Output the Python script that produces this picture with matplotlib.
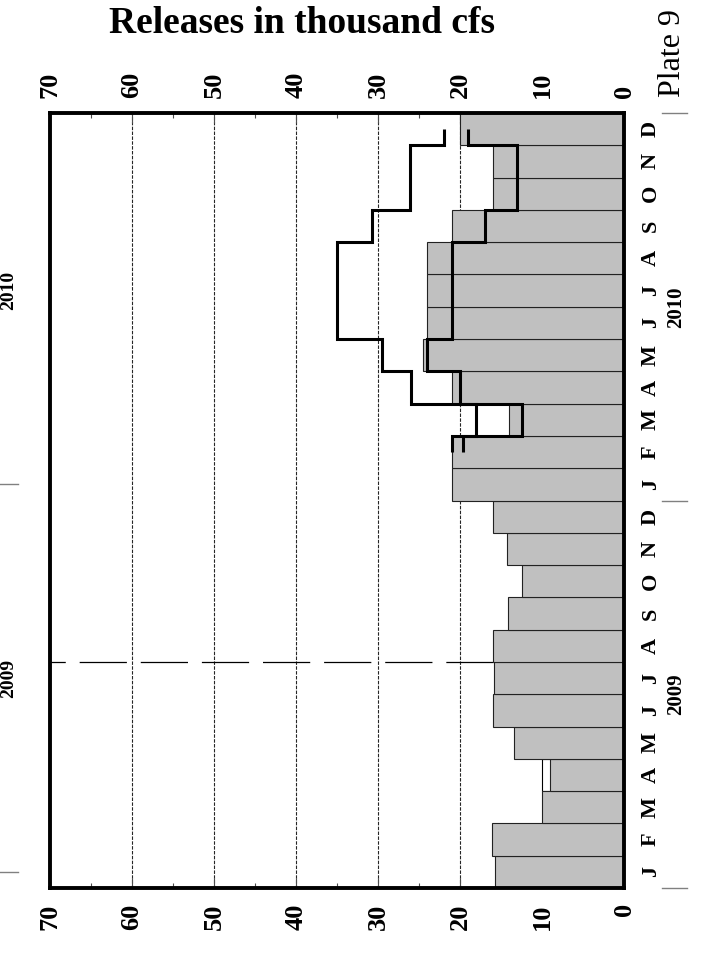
import matplotlib
matplotlib.use('Agg')
import matplotlib.pyplot as plt
import matplotlib.transforms as mtransforms
from matplotlib.ticker import FixedLocator, MultipleLocator

plt.rcParams['font.family'] = ['Liberation Serif', 'DejaVu Serif']
plt.rcParams['lines.scale_dashes'] = False

# ---------------- data ----------------
months = ['J', 'F', 'M', 'A', 'M', 'J', 'J', 'A', 'S', 'O', 'N', 'D']
years = ['2009', '2010']
# monthly releases (thousand cfs), Jan 2009 .. Dec 2010
releases = [15.7, 16.1, 10.0, 9.0, 13.4, 16.0, 15.8, 16.0, 14.1, 12.5, 14.3, 16.0,
            21.0, 21.0, 14.0, 21.0, 24.5, 24.0, 24.0, 24.0, 21.0, 16.0, 16.0, 20.0]
# outlined (unfilled) bar
outline_idx = [3]
outline_vals = [10.0]
# forecast envelopes, mid-Feb 2010 .. mid-Dec 2010
forecast_low = [19.6, 12.4, 20.0, 24.0, 21.0, 21.0, 21.0, 17.0, 13.0, 13.0, 19.0]
forecast_high = [21.0, 18.0, 26.0, 29.5, 35.0, 35.0, 35.0, 30.7, 26.1, 26.1, 22.0]
forecast_start = 13  # Feb 2010 index
value_ticks = [0, 10, 20, 30, 40, 50, 60, 70]
grid_vals = [20, 30, 40, 50, 60]
marker_month = 7  # Jul/Aug 2009 boundary

# ---------------- figure ----------------
W, H = 715, 967
fig = plt.figure(figsize=(W / 100, H / 100), dpi=100)
L, R, T, B = 50, 624, 113, 888
ax = fig.add_axes([L / W, 1 - B / H, (R - L) / W, (B - T) / H])

nm = len(releases)
idx = list(range(nm))

for g in grid_vals:
    ax.axvline(g, color='0.15', lw=0.8, linestyle=(0, (2.5, 1.0)), zorder=1)

ax.axhline(marker_month, color='black', lw=0.9, linestyle=(23, (34, 10)), zorder=1.5)

ax.barh(outline_idx, outline_vals, height=1,
        align='edge', left=0, facecolor='white', edgecolor='black', linewidth=0.8, zorder=2)
ax.barh(idx, releases, height=1, align='edge', left=0,
        color='#c0c0c0', edgecolor='#222222', linewidth=0.8, zorder=3)

n = len(forecast_low)
edges = [forecast_start + 0.5] + [forecast_start + 1 + k for k in range(n - 1)] + [forecast_start + n - 0.5]
ax.stairs(forecast_low, edges, orientation='horizontal', baseline=None,
          color='black', lw=2.2, zorder=5)
ax.stairs(forecast_high, edges, orientation='horizontal', baseline=None,
          color='black', lw=2.2, zorder=5)

ax.set_xlim(70, 0)
ax.set_ylim(0, nm)

for s in ax.spines.values():
    s.set_linewidth(2.8)
    s.set_zorder(6)

ax.xaxis.set_major_locator(FixedLocator(value_ticks))
ax.xaxis.set_minor_locator(MultipleLocator(5))
ax.set_xticklabels([str(v) for v in value_ticks])
ax.tick_params(axis='x', which='both', direction='in', top=True, bottom=True,
               labeltop=True, labelbottom=True, width=0.8, color='0.3')
ax.tick_params(axis='x', which='major', length=7, pad=11, labelrotation=90,
               labelsize=19)
ax.tick_params(axis='x', which='minor', length=3.6)
for lab in ax.get_xticklabels():
    lab.set_fontweight('bold')

ax.set_yticks([i + 0.5 for i in idx])
ax.set_yticklabels(months * len(years))
ax.tick_params(axis='y', which='both', left=False, right=False, labelleft=False,
               labelright=True, length=0, pad=12, labelrotation=90, labelsize=16)
for lab in ax.get_yticklabels():
    lab.set_fontweight('bold')
    lab.set_verticalalignment('center')

tr = mtransforms.blended_transform_factory(ax.transAxes, ax.transData)
span = R - L
for k, yr in enumerate(years):
    mid = k * len(months) + len(months) / 2
    ax.text((676 - L) / span, mid, yr, transform=tr, rotation=90, ha='center',
            va='center', fontsize=15, fontweight='bold', clip_on=False)
    ax.text((9 - L) / span, mid + 0.5, yr, transform=tr, rotation=90, ha='center',
            va='center', fontsize=14, fontweight='bold', clip_on=False)
for k in range(len(years) + 1):
    yb = k * len(months)
    ax.plot([(662 - L) / span, (687 - L) / span], [yb, yb], transform=tr,
            color='0.5', lw=1.0, clip_on=False)
    if yb + 0.5 < nm:
        ax.plot([(0 - L) / span, (18 - L) / span], [yb + 0.5, yb + 0.5], transform=tr,
                color='0.5', lw=1.0, clip_on=False)

fig.text(302 / W, 1 - 33 / H, 'Releases in thousand cfs', ha='center', va='baseline',
         fontsize=27, fontweight='bold')
fig.text(673 / W, 1 - 97 / H, 'Plate 9', rotation=90, ha='center', va='bottom',
         fontsize=23)

fig.savefig('out.png', dpi=100)
